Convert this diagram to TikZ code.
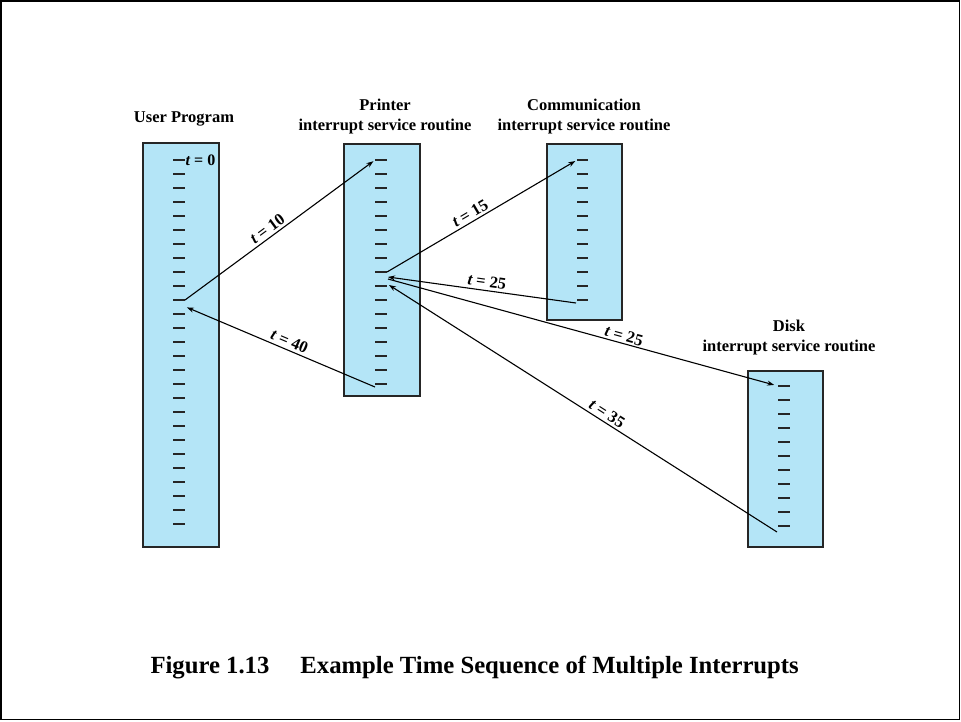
\documentclass[tikz,border=0pt]{standalone}
\usepackage{fontspec}
\setmainfont{Liberation Serif}
\usetikzlibrary{arrows.meta,calc}
\definecolor{colfill}{RGB}{180,229,247}
\begin{document}
\begin{tikzpicture}[x=1pt,y=-1pt,
  column/.style={draw=black!85,line width=1.4pt,fill=colfill,rectangle,
    inner sep=0pt,outer sep=0pt,anchor=north west},
  tickmark/.style={line width=1.5pt,draw=black!85},
  conn/.style={line width=1.1pt,-{Stealth[length=7pt,width=5pt]}},
  tlabel/.style={font=\fontsize{16.5}{19}\selectfont\bfseries,sloped,above,inner sep=2.5pt},
  title/.style={font=\fontsize{16.5}{20}\selectfont\bfseries,align=center},
  caption/.style={font=\fontsize{24.7}{30}\selectfont\bfseries,anchor=west}
]
\useasboundingbox (0,0) rectangle (961,721);
\draw[line width=1.2pt] (1,1) rectangle (959.5,719.5);

% columns
\node[column,minimum width=76pt,minimum height=404pt] (user) at (143,143) {};
\node[column,minimum width=76pt,minimum height=252pt] (printer) at (344,144) {};
\node[column,minimum width=75pt,minimum height=176pt] (comm) at (547,144) {};
\node[column,minimum width=75pt,minimum height=176pt] (disk) at (748,371) {};

% column titles
\node[title] (tuser) at (184,119) {User Program};
\node[title] (tprinter) at (385,117) {Printer\\interrupt service routine};
\node[title] (tcomm) at (584,117) {Communication\\interrupt service routine};
\node[title] (tdisk) at (789,338) {Disk\\interrupt service routine};

% instruction ticks
\foreach \i in {0,...,26} {
  \coordinate (u-\i-l) at (173,{160+14*\i});
  \coordinate (u-\i-r) at (185,{160+14*\i});
  \draw[tickmark] (u-\i-l) -- (u-\i-r);
}
\foreach \i in {0,...,16} {
  \coordinate (p-\i-l) at (375,{160+14*\i});
  \coordinate (p-\i-r) at (387,{160+14*\i});
  \draw[tickmark] (p-\i-l) -- (p-\i-r);
}
\foreach \i in {0,...,10} {
  \coordinate (c-\i-l) at (577,{160+14*\i});
  \coordinate (c-\i-r) at (588,{160+14*\i});
  \draw[tickmark] (c-\i-l) -- (c-\i-r);
  \coordinate (d-\i-l) at (778,{386+14*\i});
  \coordinate (d-\i-r) at (790,{386+14*\i});
  \draw[tickmark] (d-\i-l) -- (d-\i-r);
}

\node[font=\fontsize{16}{18}\selectfont\bfseries,anchor=west,inner sep=0.5pt] (t0) at (u-0-r) {{\itshape t} = 0};

% connection points
\coordinate (u-back) at ($(u-10-r)+(1,7)$);
\coordinate (p-c-in) at ($(p-8-r)+(1,5)$);
\coordinate (p-d-out) at ($(p-8-r)+(1,7)$);
\coordinate (p-d-in) at ($(p-9-r)+(2,-1)$);
\coordinate (c-out) at ($(c-10-l)+(-1,3)$);
\coordinate (d-out) at ($(d-10-l)+(-1,6)$);
\coordinate (p-out) at ($(p-16-l)+(0,3)$);

% interrupts and returns
\draw[conn,shorten >=2pt] (u-10-r) -- node[tlabel,pos=0.46] {{\itshape t} = 10} (p-0-l);
\draw[conn,shorten >=1pt] (p-out) -- node[tlabel,pos=0.47] {{\itshape t} = 40} (u-back);
\draw[conn,shorten >=2pt] (p-8-r) -- node[tlabel,pos=0.46] {{\itshape t} = 15} (c-0-l);
\draw[conn] (c-out) -- node[tlabel,pos=0.48] {{\itshape t} = 25} (p-c-in);
\draw[conn,shorten >=4pt] (p-d-out) -- node[tlabel,pos=0.6,inner sep=1.5pt] {{\itshape t} = 25} (d-0-l);
\draw[conn] (d-out) -- node[tlabel,pos=0.45] {{\itshape t} = 35} (p-d-in);

% caption
\node[caption] (cap) at (147,668) {Figure 1.13\hspace{31pt}Example Time Sequence of Multiple Interrupts};
\end{tikzpicture}
\end{document}
